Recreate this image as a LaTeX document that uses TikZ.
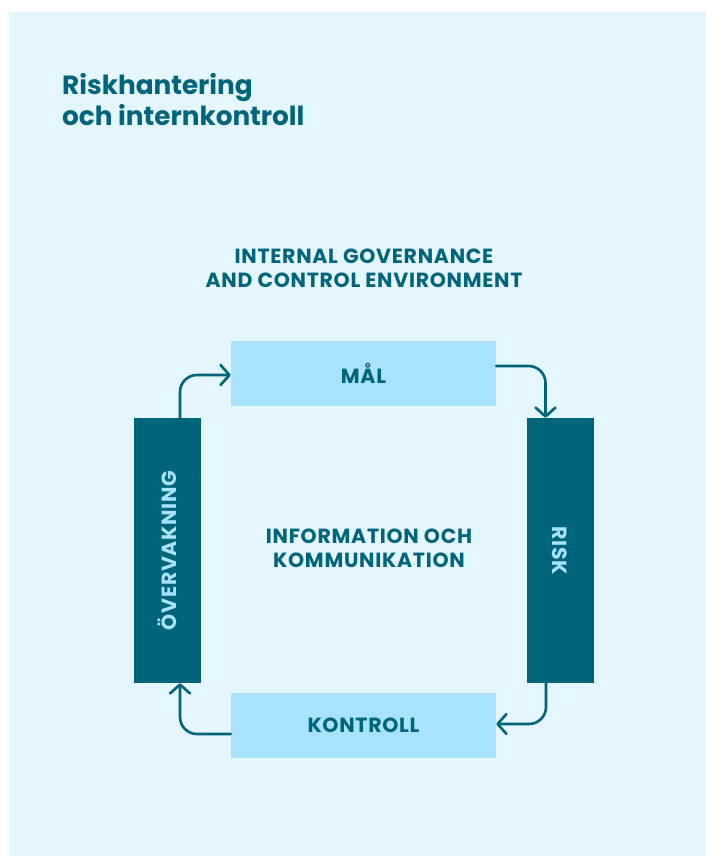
\documentclass[tikz,border=0pt]{standalone}
\usepackage{fontspec}
\setmainfont{Poppins}
\usepackage{xcolor}
\usepackage{tikz}
\usetikzlibrary{positioning,arrows.meta}
\definecolor{bgblue}{RGB}{228,246,254}
\definecolor{paleblue}{RGB}{168,226,252}
\definecolor{deepteal}{RGB}{0,101,122}

\begin{document}
\begin{tikzpicture}[x=1pt,y=-1pt,
    every node/.style={font=\bfseries\fontsize{20.5}{24}\selectfont\addfontfeatures{LetterSpace=3.5},text=deepteal,inner sep=0pt},
    lightbox/.style={fill=paleblue,minimum width=265pt,minimum height=65pt},
    darkbox/.style={fill=deepteal,text=paleblue,minimum width=67pt,minimum height=265pt},
    flow/.style={draw=deepteal,line width=2.6pt,rounded corners=17pt,line cap=round,
      -{Straight Barb[length=9pt,width=20pt,line cap=round,line join=round]}}]
    \useasboundingbox (0,0) rectangle (706,856);
    \fill[bgblue] (9,12) rectangle (706,856);
    \node[anchor=north west,align=left,font=\bfseries\fontsize{26.3}{31}\selectfont] (title) at (62,73) {Riskhantering\\och internkontroll};
    \node[align=center] (env) at (364,268) {INTERNAL GOVERNANCE\\AND CONTROL ENVIRONMENT};
    \node[lightbox] (mal) at (363.5,373.5) {MÅL};
    \node[darkbox] (risk) at (560,550.5) {};
    \node[rotate=-90,text=paleblue] (risklbl) at (risk.center) {RISK};
    \node[lightbox] (ktrl) at (363.5,725.5) {KONTROLL};
    \node[darkbox] (overv) at (167.5,550.5) {};
    \node[rotate=90,text=paleblue] (overvlbl) at (overv.center) {ÖVERVAKNING};
    \node[align=center] (info) at (369,548) {INFORMATION OCH\\KOMMUNIKATION};
    % cycle
    \draw[flow] ([xshift=12.5pt]overv.north) |- ([yshift=-1.5pt]mal.west);
    \draw[flow] ([yshift=7.5pt]mal.east) -| ([xshift=-14.5pt]risk.north);
    \draw[flow] ([xshift=-14pt]risk.south) |- ([yshift=1.5pt]ktrl.east);
    \draw[flow] ([yshift=-8.5pt]ktrl.west) -| ([xshift=12.5pt]overv.south);
  \end{tikzpicture}
\end{document}
